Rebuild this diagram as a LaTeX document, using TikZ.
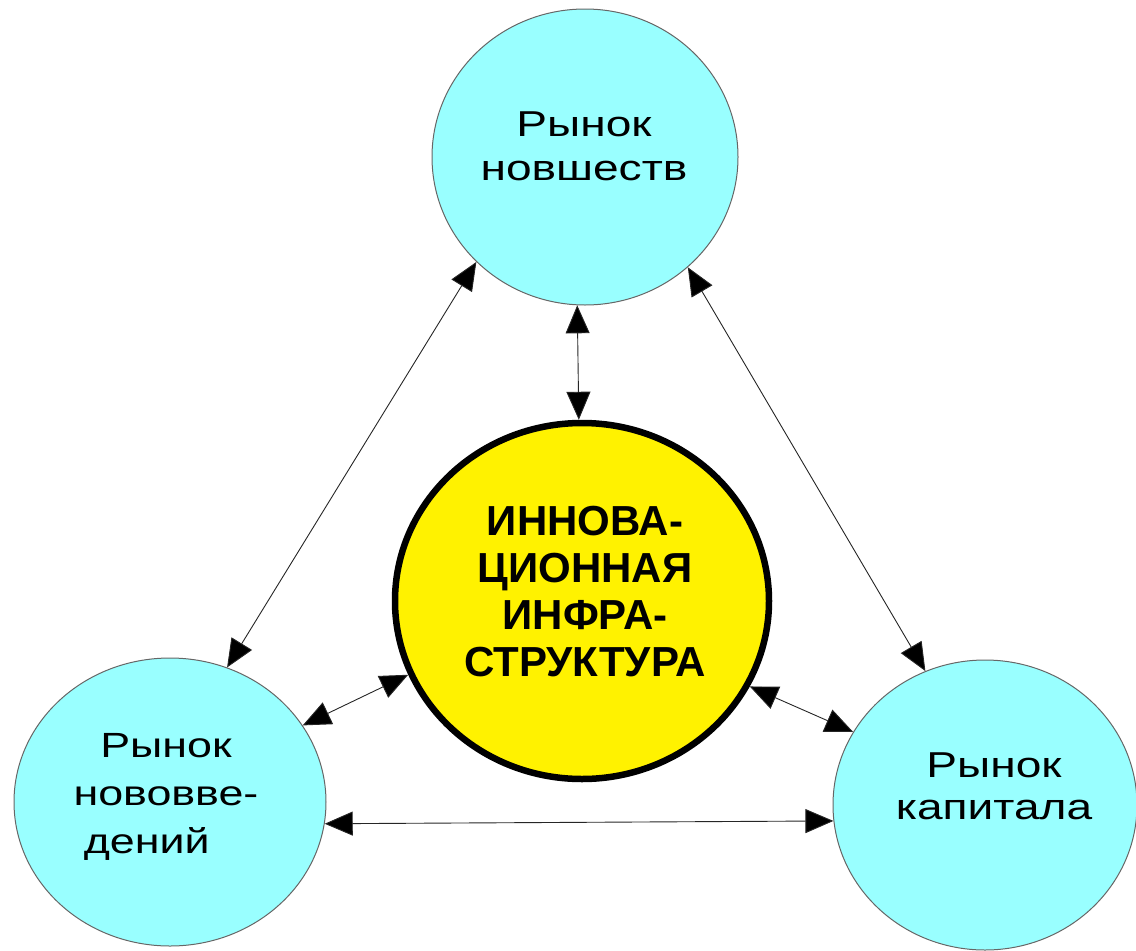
\documentclass[tikz,border=0pt]{standalone}
\usepackage{fontspec}
\setmainfont{Liberation Sans}
\newfontfamily\lblfont{Liberation Sans}[FakeStretch=1.28]
\usetikzlibrary{shapes.geometric,arrows.meta}
\definecolor{cyanfill}{RGB}{153,255,255}

\begin{document}
\begin{tikzpicture}[x=1pt,y=-1pt,
  market/.style={ellipse, draw=black!60, line width=1pt, fill=cyanfill, inner sep=0pt},
  infra/.style={ellipse, draw=black, line width=6.5pt, fill=yellow, inner sep=0pt},
  link/.style={line width=0.9pt, draw=black!85, {Triangle[length=28pt,width=24pt,fill=black]}-{Triangle[length=28pt,width=24pt,fill=black]}},
  lbl/.style={font=\lblfont\fontsize{36}{44}\selectfont, align=center},
  title/.style={font=\bfseries\fontsize{42}{47}\selectfont, align=center}]
  \useasboundingbox (0,0) rectangle (1136,951);

  % the four markets
  \node[market, minimum width=306pt, minimum height=296pt] (novelty) at (585,157) {};
  \node[infra, minimum width=374pt, minimum height=356pt] (infra) at (582,601) {};
  \node[market, minimum width=312pt, minimum height=288pt] (innov) at (170,802) {};
  \node[market, minimum width=304pt, minimum height=290pt] (capital) at (985,805) {};

  % labels
  \node[lbl] (novelty-text) at (584,146.5) {Рынок\\новшеств};
  \node[lbl, font=\lblfont\fontsize{35}{48}\selectfont] (innov-text) at (166,797) {Рынок\\нововве-\\дений\hspace*{1.1em}};
  \node[lbl, font=\lblfont\fontsize{36}{42}\selectfont] (capital-text) at (994,786) {Рынок\\капитала};
  \node[title] (infra-text) at (585,592) {ИННОВА-\\ЦИОННАЯ\\ИНФРА-\\СТРУКТУРА};

  % two-way links
  \draw[link] (novelty.267) -- (infra.91.6);
  \draw[link] (novelty.224.7) -- (innov.67.8);
  \draw[link] (novelty.313.7) -- (capital.114);
  \draw[link] (innov.30) -- (infra.203.5);
  \draw[link] (infra.333) -- (capital.151.8);
  \draw[link] (innov.352.6) -- (capital.186.7);
\end{tikzpicture}
\end{document}
